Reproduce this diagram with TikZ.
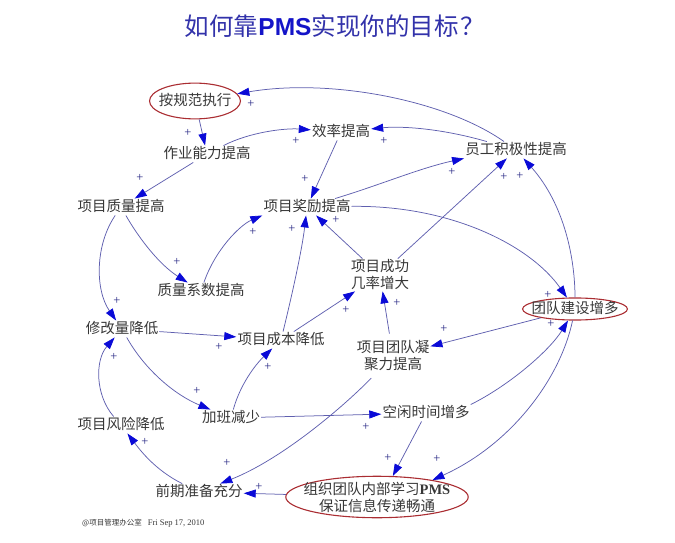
\documentclass[tikz,border=0pt]{standalone}
\usepackage{fontspec}
\setmainfont{Liberation Serif}
\newfontfamily\cjkfont{Noto Sans CJK SC}
\newfontfamily\headsans{Liberation Sans}
\usetikzlibrary{arrows.meta,shapes.geometric,calc}

\definecolor{linkcol}{RGB}{95,95,175}
\definecolor{tipcol}{RGB}{10,10,215}
\definecolor{signcol}{RGB}{35,35,130}
\definecolor{ringcol}{RGB}{170,45,50}
\definecolor{labelcol}{RGB}{55,55,55}
\definecolor{headcol}{RGB}{50,50,170}
\definecolor{pmscol}{RGB}{20,20,200}

\tikzset{
  var/.style={font=\cjkfont\fontsize{14.5pt}{17pt}\selectfont, text=labelcol,
    inner xsep=1pt, inner ysep=1pt, text height=11.5pt, text depth=3pt, align=center},
  twoline/.style={var, text height={}, text depth={}},
  goal/.style={ellipse, draw=ringcol, line width=1.1pt},
  link/.style={draw=linkcol, line width=0.75pt,
    -{Triangle[length=12pt,width=8pt,color=tipcol]}},
  sign/.style={font=\fontsize{12.5pt}{12.5pt}\selectfont, text=signcol, inner sep=0pt},
}

\begin{document}
\begin{tikzpicture}[x=1pt,y=-1pt]
\useasboundingbox (0,0) rectangle (675,543);

% heading
\node[text=headcol, font=\cjkfont\fontsize{24.5pt}{27pt}\selectfont] (title) at (335,26)
  {如何靠{\headsans\bfseries\color{pmscol}PMS}实现你的目标\hspace{2pt}？};

% variables of the causal loop
\node[var, goal, inner xsep=-4.1pt, inner ysep=5.4pt] (A) at (195,101) {按规范执行};
\node[var] (B) at (207,154) {作业能力提高};
\node[var] (C) at (341,132) {效率提高};
\node[var] (D) at (516,150) {员工积极性提高};
\node[var] (E) at (121,207) {项目质量提高};
\node[var] (F) at (307,207) {项目奖励提高};
\node[var] (G) at (201,291) {质量系数提高};
\node[twoline] (H) at (380,275) {项目成功\\几率增大};
\node[var, goal, inner xsep=-6.4pt, inner ysep=0.8pt, text height=11pt, text depth=3pt] (I) at (575,309) {团队建设增多};
\node[var] (J) at (122,329) {修改量降低};
\node[var] (K) at (281,340) {项目成本降低};
\node[twoline] (L) at (393,356) {项目团队凝\\聚力提高};
\node[var] (M) at (231,418) {加班减少};
\node[var] (N) at (426,413) {空闲时间增多};
\node[var] (O) at (121,425) {项目风险降低};
\node[var] (P) at (199,492) {前期准备充分};
\node[twoline, goal, inner xsep=-8.8pt, inner ysep=-0.6pt] (Q) at (377,497)
  {组织团队内部学习{\rmfamily\bfseries PMS}\\保证信息传递畅通};

% footer stamp
\node[anchor=west, text=labelcol, inner sep=0pt] (stamp) at (82,523)
  {{\cjkfont\fontsize{7.5pt}{9pt}\selectfont @项目管理办公室}\hspace{6pt}{\fontsize{8.5pt}{10pt}\selectfont Fri Sep 17, 2010}};

% causal links
\draw[link] (D) .. controls (445,100) and (330,78) .. (A);
\draw[link] (A) -- (B);
\draw[link] (B) .. controls (250,132) and (285,128) .. (C);
\draw[link] (D) .. controls (440,128) and (400,126) .. (C);
\draw[link] (C) -- (F);
\draw[link] (B) -- (E);
\draw[link] (F) .. controls (380,185) and (420,168) .. (D.south west);
\draw[link] (F) .. controls (450,205) and (530,245) .. (I);
\draw[link] (I) .. controls (575,260) and (565,205) .. (D);
\draw[link] (H) -- (D);
\draw[link] (E) .. controls (140,240) and (160,265) .. (G);
\draw[link] (G) .. controls (215,250) and (240,225) .. (F.south west);
\draw[link] (K) .. controls (292,295) and (302,250) .. (F);
\draw[link] (H) -- (F);
\draw[link] (E) .. controls (95,245) and (95,290) .. (J);
\draw[link] (J) -- (K);
\draw[link] (K) -- (H);
\draw[link, shorten <=6pt] (L) -- (H);
\draw[link] (I) -- (L);
\draw[link] (O) .. controls (95,395) and (95,360) .. (J);
\draw[link] (J) .. controls (145,370) and (175,395) .. (M);
\draw[link] (M) .. controls (240,385) and (255,365) .. (K);
\draw[link] (M) -- (N);
\draw[link, shorten <=8pt] (L) .. controls (340,410) and (280,460) .. (P);
\draw[link] (N.north east) .. controls (510,385) and (550,350) .. (I);
\draw[link] (I) .. controls (560,380) and (510,445) .. (Q.17);
\draw[link] (N) -- (Q.53);
\draw[link] (Q) -- (P);
\draw[link] (P) .. controls (155,470) and (140,450) .. (O);

% polarity signs
\node[sign] (s1) at (251,104) {+};
\node[sign] (s2) at (188,133) {+};
\node[sign] (s3) at (296,141) {+};
\node[sign] (s4) at (384,141) {+};
\node[sign] (s5) at (305,179) {+};
\node[sign] (s6) at (140,178) {+};
\node[sign] (s7) at (452,172) {+};
\node[sign] (s8) at (548,295) {+};
\node[sign] (s9) at (520,176) {+};
\node[sign] (s10) at (504,177) {+};
\node[sign] (s11) at (177,262) {+};
\node[sign] (s12) at (253,232) {+};
\node[sign] (s13) at (292,229) {+};
\node[sign] (s14) at (336,220) {+};
\node[sign] (s15) at (117,301) {+};
\node[sign] (s16) at (219,347) {+};
\node[sign] (s17) at (346,310) {+};
\node[sign] (s18) at (397,303) {+};
\node[sign] (s19) at (444,329) {+};
\node[sign] (s20) at (551,324) {+};
\node[sign] (s21) at (114,357) {+};
\node[sign] (s22) at (197,391) {+};
\node[sign] (s23) at (268,367) {+};
\node[sign] (s24) at (366,427) {+};
\node[sign] (s25) at (227,463) {+};
\node[sign] (s26) at (437,459) {+};
\node[sign] (s27) at (388,458) {+};
\node[sign] (s28) at (259,487) {+};
\node[sign] (s29) at (145,442) {+};
\end{tikzpicture}
\end{document}
